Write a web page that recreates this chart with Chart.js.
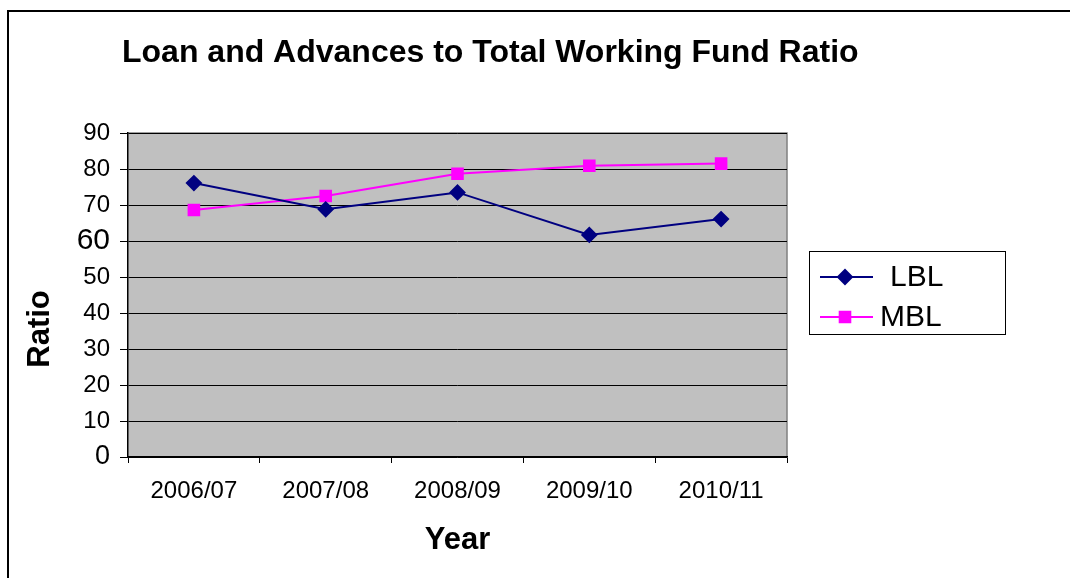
<!DOCTYPE html>
<html>
<head>
<meta charset="utf-8">
<script src="https://cdn.jsdelivr.net/npm/chart.js@4.4.1/dist/chart.umd.min.js"></script>
<style>
  html, body { margin: 0; padding: 0; background: #ffffff; overflow: hidden; }
  #wrap { width: 1070px; height: 578px; }
</style>
</head>
<body>
<div id="wrap"><canvas id="ratioChart" width="1070" height="578"></canvas></div>
<script>
const years = ['2006/07', '2007/08', '2008/09', '2009/10', '2010/11'];
const lblRatio = [76.1, 68.8, 73.5, 61.7, 66.1];
const mblRatio = [68.6, 72.5, 78.7, 80.9, 81.5];
const yTicks = [0, 10, 20, 30, 40, 50, 60, 70, 80, 90];

const FONT = 'Liberation Sans, Arial, sans-serif';
const chartTitle = 'Loan and Advances to Total Working Fund Ratio';
const yTitle = 'Ratio';

// frame, grey plot area, title, y title and the boxed legend
const decor = {
  id: 'decor',
  beforeDraw(chart) {
    const { ctx, chartArea: a } = chart;
    ctx.save();
    ctx.strokeStyle = '#000000';
    ctx.lineWidth = 2;
    ctx.strokeRect(8, 11, 1200, 1000);
    ctx.fillStyle = '#c0c0c0';
    ctx.fillRect(a.left, a.top, a.right - a.left, a.bottom - a.top);
    ctx.strokeStyle = '#808080';
    ctx.lineWidth = 1.5;
    ctx.beginPath();
    ctx.moveTo(a.left, a.top);
    ctx.lineTo(a.right, a.top);
    ctx.lineTo(a.right, a.bottom);
    ctx.stroke();
    ctx.restore();
  },
  afterDraw(chart) {
    const { ctx, chartArea: a } = chart;
    ctx.save();
    ctx.fillStyle = '#000000';
    ctx.font = 'bold 32px ' + FONT;
    ctx.textAlign = 'left';
    ctx.textBaseline = 'middle';
    ctx.fillText(chartTitle, a.left - 6, 53);

    ctx.save();
    ctx.translate(40, (a.top + a.bottom) / 2 + 34);
    ctx.rotate(-Math.PI / 2);
    ctx.textAlign = 'center';
    ctx.font = 'bold 31px ' + FONT;
    ctx.fillText(yTitle, 0, 0);
    ctx.restore();

    // legend box
    const lx = a.right + 22;
    const cy = (a.top + a.bottom) / 2 - 2.5;
    const w = 196, h = 83;
    ctx.fillStyle = '#ffffff';
    ctx.fillRect(lx, cy - h / 2, w, h);
    ctx.strokeStyle = '#000000';
    ctx.lineWidth = 1;
    ctx.strokeRect(lx + 0.5, cy - h / 2 + 0.5, w, h);
    const textX = [81, 71];
    chart.data.datasets.forEach((ds, i) => {
      const y = cy - 15.5 + i * 40;
      ctx.strokeStyle = ds.borderColor;
      ctx.lineWidth = 2;
      ctx.beginPath();
      ctx.moveTo(lx + 11, y);
      ctx.lineTo(lx + 64, y);
      ctx.stroke();
      ctx.fillStyle = ds.pointBackgroundColor;
      Chart.helpers.drawPoint(ctx, {
        pointStyle: ds.pointStyle, radius: ds.pointRadius, rotation: 0, borderWidth: 1
      }, lx + 36, y);
      ctx.fillStyle = '#000000';
      ctx.font = '30px ' + FONT;
      ctx.textAlign = 'left';
      ctx.textBaseline = 'middle';
      ctx.fillText(ds.label, lx + textX[i], y + 1);
    });
    ctx.restore();
  }
};

new Chart(document.getElementById('ratioChart').getContext('2d'), {
  type: 'line',
  data: {
    labels: years,
    datasets: [
      {
        label: 'LBL',
        data: lblRatio,
        borderColor: '#000080',
        backgroundColor: '#000080',
        pointBackgroundColor: '#000080',
        pointBorderColor: '#000080',
        borderWidth: 2,
        pointStyle: 'rectRot',
        pointRadius: 7,
        tension: 0,
      },
      {
        label: 'MBL',
        data: mblRatio,
        borderColor: '#ff00ff',
        backgroundColor: '#ff00ff',
        pointBackgroundColor: '#ff00ff',
        pointBorderColor: '#ff00ff',
        borderWidth: 2,
        pointStyle: 'rect',
        pointRadius: 7.5,
        tension: 0,
      },
    ],
  },
  options: {
    responsive: false,
    animation: false,
    layout: { padding: { top: 133, right: 283, left: 0, bottom: 0 } },
    plugins: {
      legend: { display: false },
      title: { display: false },
      tooltip: { enabled: false },
    },
    scales: {
      x: {
        offset: true,
        afterFit(scale) { scale.height = 121; },
        grid: {
          offset: true,
          drawOnChartArea: false,
          drawTicks: true,
          tickLength: 6,
          tickColor: '#000000',
        },
        border: { color: '#000000', width: 1.5 },
        ticks: {
          color: '#000000',
          padding: 14,
          font: { family: FONT, size: 24 },
          maxRotation: 0,
          autoSkip: false,
        },
        title: {
          display: true,
          text: 'Year',
          color: '#000000',
          font: { family: FONT, size: 31, weight: 'bold', lineHeight: 1.2 },
          padding: { top: 0, bottom: 19 },
        },
      },
      y: {
        min: 0,
        max: 90,
        afterFit(scale) { scale.width = 128; },
        afterBuildTicks(scale) { scale.ticks = yTicks.map(v => ({ value: v })); },
        grid: {
          color: '#000000',
          lineWidth: 1,
          drawTicks: true,
          tickLength: 8,
          tickColor: '#000000',
        },
        border: { color: '#000000', width: 1.5 },
        ticks: {
          color: '#000000',
          padding: 10,
          autoSkip: false,
          font: (c) => ({
            family: FONT,
            size: c.tick && c.tick.value === 60 ? 30 : (c.tick && c.tick.value === 0 ? 27 : 24),
          }),
        },
      },
    },
  },
  plugins: [decor],
});
</script>
</body>
</html>
